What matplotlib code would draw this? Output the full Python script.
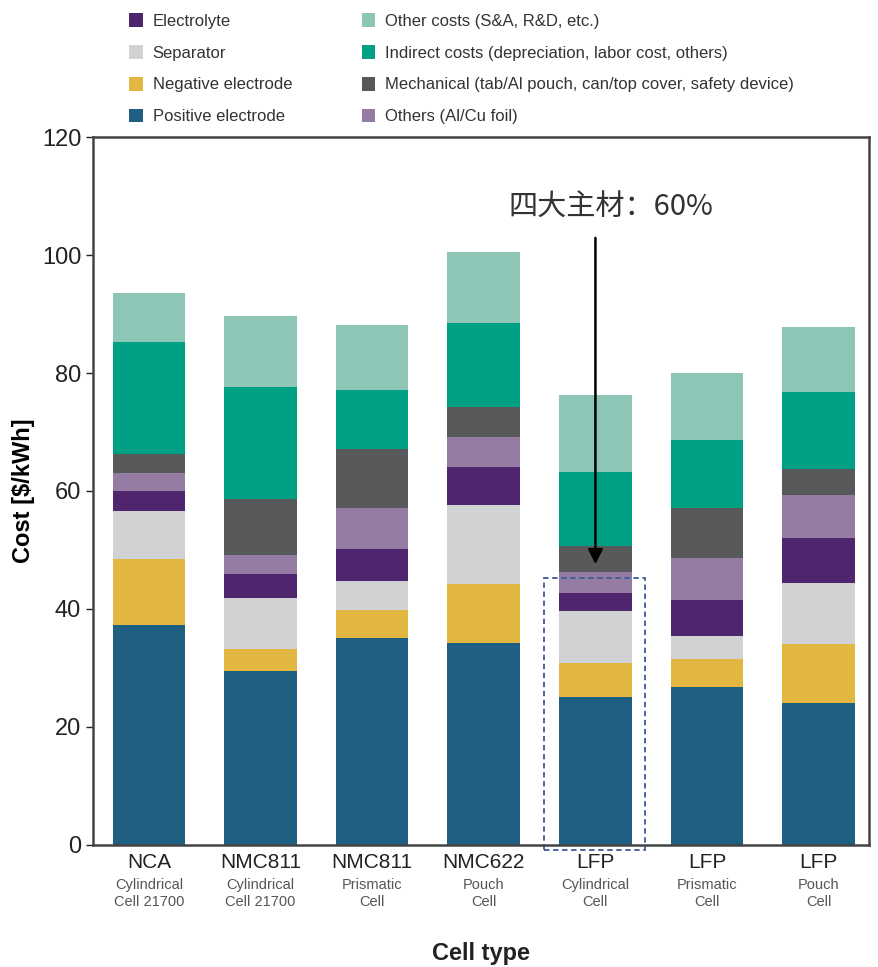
import matplotlib.pyplot as plt
from matplotlib.patches import Patch, Rectangle
import numpy as np

plt.rcParams['font.family'] = ['Liberation Sans', 'DejaVu Sans']

cells = ['NCA', 'NMC811', 'NMC811', 'NMC622', 'LFP', 'LFP', 'LFP']
formats = ['Cylindrical\nCell 21700', 'Cylindrical\nCell 21700', 'Prismatic\nCell',
           'Pouch\nCell', 'Cylindrical\nCell', 'Prismatic\nCell', 'Pouch\nCell']

# cost components in $/kWh, stacked bottom to top
positive = [37.3, 29.5, 35.0, 34.3, 25.1, 26.7, 24.0]
negative = [11.2, 3.8, 4.9, 9.9, 5.7, 4.9, 10.1]
separator = [8.1, 8.6, 4.8, 13.4, 8.9, 3.8, 10.3]
electrolyte = [3.4, 4.0, 5.4, 6.5, 3.0, 6.1, 7.7]
foil = [3.1, 3.3, 7.1, 5.1, 3.5, 7.1, 7.2]
mechanical = [3.1, 9.4, 10.0, 5.1, 4.4, 8.6, 4.4]
indirect = [19.0, 19.1, 9.9, 14.1, 12.6, 11.4, 13.0]
other_costs = [8.4, 12.0, 11.1, 12.1, 13.1, 11.4, 11.1]

layers = [
    ('Positive electrode', positive, '#1f5f82'),
    ('Negative electrode', negative, '#e1b641'),
    ('Separator', separator, '#d1d2d4'),
    ('Electrolyte', electrolyte, '#4f266e'),
    ('Others (Al/Cu foil)', foil, '#957ca3'),
    ('Mechanical (tab/Al pouch, can/top cover, safety device)', mechanical, '#58595b'),
    ('Indirect costs (depreciation, labor cost, others)', indirect, '#00a084'),
    ('Other costs (S&A, R&D, etc.)', other_costs, '#8dc6b7'),
]

fig = plt.figure(figsize=(8.79, 9.67), dpi=100)
ax = fig.add_axes([0.1058, 0.1262, 0.8828, 0.7321])

x = np.arange(len(cells))
bottom = np.zeros(len(cells))
colors = {}
for name, vals, col in layers:
    ax.bar(x, vals, bottom=bottom, width=0.65, color=col, edgecolor='none')
    bottom += np.array(vals)
    colors[name] = col

ax.set_xlim(-0.5, 6.45)
ax.set_ylim(0, 120)
ax.set_yticks(range(0, 121, 20))
ax.tick_params(axis='y', labelsize=17, length=5, width=1, colors='#222222')
ax.set_xticks(x)
ax.set_xticklabels([])
ax.tick_params(axis='x', length=0)
for s in ax.spines.values():
    s.set_linewidth(1.8)
    s.set_color('#444444')

tr = ax.get_xaxis_transform()
for i in range(len(cells)):
    ax.text(i, -0.012, cells[i], transform=tr, ha='center', va='top',
            fontsize=15, color='#222222')
    ax.text(i, -0.046, formats[i], transform=tr, ha='center', va='top',
            fontsize=10.5, color='#555555', linespacing=1.35)

ax.set_ylabel('Cost [$/kWh]', fontsize=17, fontweight='bold', labelpad=5)
ax.text(0.5, -0.153, 'Cell type', transform=ax.transAxes, ha='center', va='center',
        fontsize=17, fontweight='bold', color='#222222')

# the four main materials of the LFP cylindrical cell
ax.add_patch(Rectangle((3.536, -0.85), 0.91, 46.15, fill=False, edgecolor='#3d5a9a',
                       linestyle=(0, (3, 2)), linewidth=1.3, clip_on=False))
ax.annotate('', xy=(4, 47.6), xytext=(4, 102.9),
            arrowprops=dict(arrowstyle='-|>', color='black', lw=1.8,
                            mutation_scale=22, shrinkA=0, shrinkB=0))
ax.text(4.14, 108, '四大主材：60%', ha='center', va='center', fontsize=21,
        color='#333333', family=['Noto Sans CJK SC', 'DejaVu Sans'])

order = ['Electrolyte', 'Separator', 'Negative electrode', 'Positive electrode',
         'Other costs (S&A, R&D, etc.)',
         'Indirect costs (depreciation, labor cost, others)',
         'Mechanical (tab/Al pouch, can/top cover, safety device)',
         'Others (Al/Cu foil)']
handles = [Patch(facecolor=colors[n], edgecolor='none', label=n) for n in order]
fig.legend(handles=handles, ncol=2, loc='upper left', bbox_to_anchor=(0.13, 1.002),
           frameon=False, fontsize=12, handlelength=0.8, handleheight=0.9,
           handletextpad=0.6, labelspacing=0.97, columnspacing=4.2,
           labelcolor='#333333')

fig.savefig('out.png', dpi=100)
